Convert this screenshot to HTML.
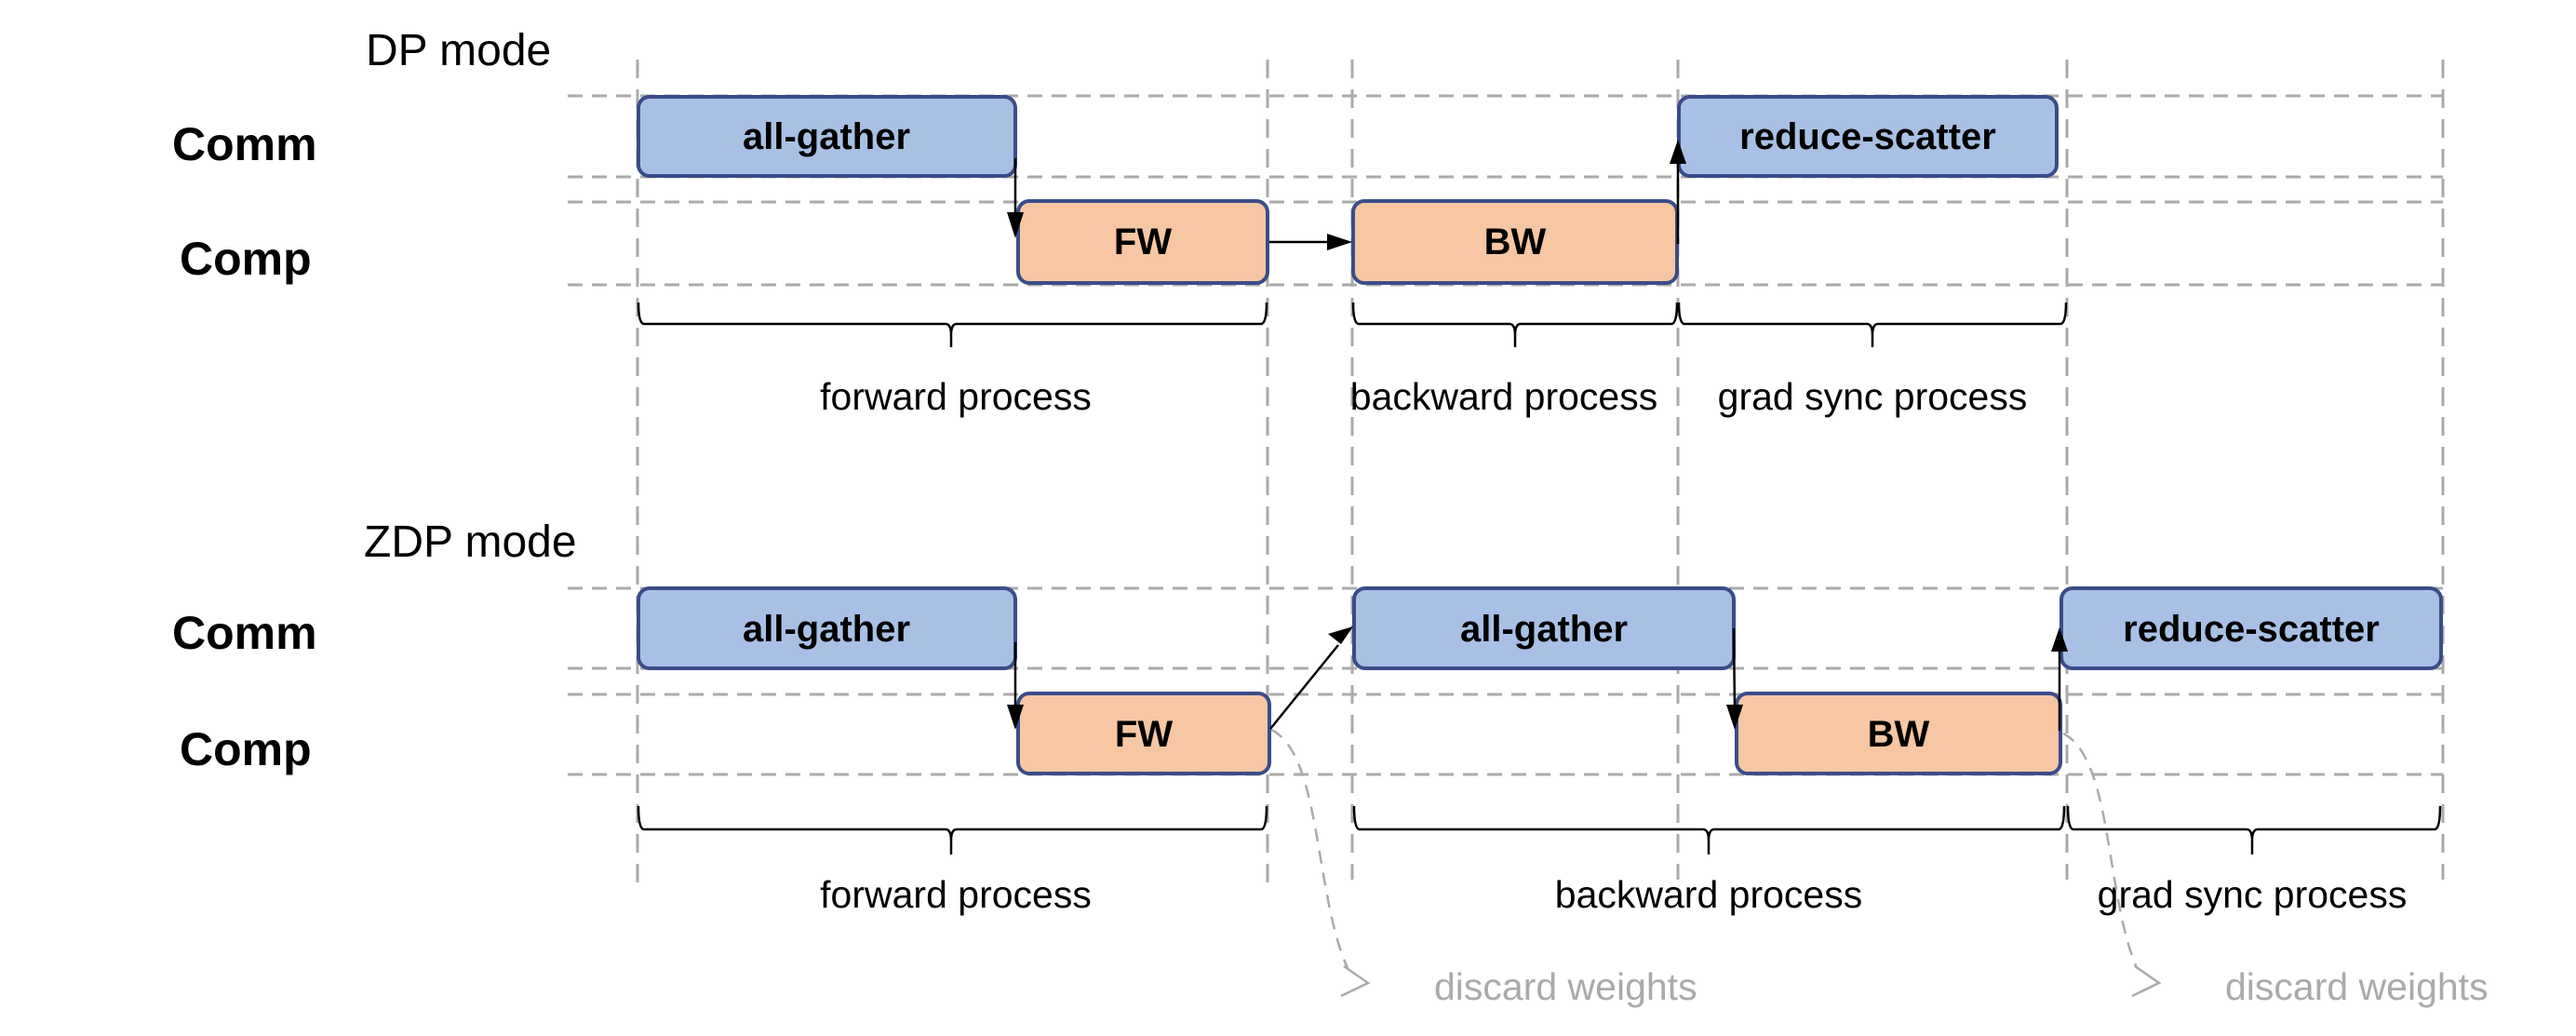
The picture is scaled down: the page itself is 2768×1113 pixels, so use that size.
<!DOCTYPE html>
<html><head><meta charset="utf-8"><style>
html,body{margin:0;padding:0;background:#fff;}
svg{display:block;}
text{font-family:"Liberation Sans",sans-serif;}
.lab{font-weight:bold;font-size:50px;fill:#000;}
.bx{font-weight:bold;font-size:40px;fill:#000;}
.pr{font-size:41px;fill:#000;}
.md{font-size:48px;fill:#000;}
.dw{font-size:41px;fill:#aaa;}
.hd{stroke:#aaa;stroke-width:3;stroke-dasharray:16 10;fill:none;}
.vd{stroke:#aaa;stroke-width:3;stroke-dasharray:20 12;fill:none;}
.blue{fill:#a9c0e5;stroke:#3a4c88;stroke-width:4;}
.org{fill:#f7c6a3;stroke:#3a4c88;stroke-width:4;}
.ar{stroke:#000;stroke-width:2.5;fill:none;}
.br{stroke:#000;stroke-width:2.5;fill:none;}
</style></head><body>
<svg width="2768" height="1113" viewBox="0 0 2768 1113" xmlns="http://www.w3.org/2000/svg">
<defs>
<marker id="ah" markerWidth="10" markerHeight="10" refX="9" refY="5" orient="auto" markerUnits="userSpaceOnUse" viewBox="0 0 10 10">
<path d="M0,0 L10,5 L0,10 z" fill="#000"/>
</marker>
</defs>
<!-- markers scaled via explicit paths instead -->
<!-- vertical dashed lines -->
<g class="vd">
<line x1="685" y1="64" x2="685" y2="950"/>
<line x1="1362" y1="64" x2="1362" y2="952"/>
<line x1="1453" y1="64" x2="1453" y2="945"/>
<line x1="1803" y1="64" x2="1803" y2="945"/>
<line x1="2221" y1="64" x2="2221" y2="945"/>
<line x1="2625" y1="64" x2="2625" y2="945"/>
</g>
<!-- horizontal dashed lines -->
<g class="hd">
<line x1="610" y1="103" x2="2625" y2="103"/>
<line x1="610" y1="190" x2="2625" y2="190"/>
<line x1="610" y1="217" x2="2625" y2="217"/>
<line x1="610" y1="306" x2="2625" y2="306"/>
<line x1="610" y1="632" x2="2625" y2="632"/>
<line x1="610" y1="718" x2="2625" y2="718"/>
<line x1="610" y1="746" x2="2625" y2="746"/>
<line x1="610" y1="832" x2="2625" y2="832"/>
</g>

<!-- titles and row labels -->
<text class="md" x="393" y="70">DP mode</text>
<text class="md" x="391" y="598">ZDP mode</text>
<text class="lab" x="185" y="172">Comm</text>
<text class="lab" x="193" y="295">Comp</text>
<text class="lab" x="185" y="697">Comm</text>
<text class="lab" x="193" y="822">Comp</text>

<!-- DP boxes -->
<rect class="blue" x="686" y="104" width="405" height="85" rx="12"/>
<text class="bx" x="888" y="160" text-anchor="middle">all-gather</text>
<rect class="org" x="1094" y="216" width="268" height="88" rx="12"/>
<text class="bx" x="1228" y="273" text-anchor="middle">FW</text>
<rect class="org" x="1454" y="216" width="348" height="88" rx="12"/>
<text class="bx" x="1628" y="273" text-anchor="middle">BW</text>
<rect class="blue" x="1804" y="104" width="406" height="85" rx="12"/>
<text class="bx" x="2007" y="160" text-anchor="middle">reduce-scatter</text>

<!-- DP arrows -->
<line class="ar" x1="1091" y1="170" x2="1091" y2="235"/>
<path d="M1082,228 L1100,228 L1091,256 z" fill="#000"/>
<line class="ar" x1="1364" y1="260" x2="1430" y2="260"/>
<path d="M1426,251 L1426,269 L1453,260 z" fill="#000"/>
<line class="ar" x1="1803" y1="262" x2="1803" y2="175"/>
<path d="M1794,176 L1812,176 L1803,150 z" fill="#000"/>

<!-- DP braces -->
<g class="br">
<path d="M686,325 Q686,348 692,348 L1016,348 Q1022,348 1022,360 L1022,373 M1022,360 Q1022,348 1028,348 L1355,348 Q1361,348 1361,325"/>
<path d="M1454,325 Q1454,348 1460,348 L1622,348 Q1628,348 1628,360 L1628,373 M1628,360 Q1628,348 1634,348 L1796,348 Q1802,348 1802,325"/>
<path d="M1804,325 Q1804,348 1810,348 L2006,348 Q2012,348 2012,360 L2012,373 M2012,360 Q2012,348 2018,348 L2214,348 Q2220,348 2220,325"/>
</g>
<text class="pr" x="1027" y="440" text-anchor="middle">forward process</text>
<text class="pr" x="1616" y="440" text-anchor="middle">backward process</text>
<text class="pr" x="2012" y="440" text-anchor="middle">grad sync process</text>

<!-- ZDP boxes -->
<rect class="blue" x="686" y="632" width="405" height="86" rx="12"/>
<text class="bx" x="888" y="689" text-anchor="middle">all-gather</text>
<rect class="org" x="1094" y="745" width="270" height="86" rx="12"/>
<text class="bx" x="1229" y="802" text-anchor="middle">FW</text>
<rect class="blue" x="1455" y="632" width="408" height="86" rx="12"/>
<text class="bx" x="1659" y="689" text-anchor="middle">all-gather</text>
<rect class="org" x="1866" y="745" width="348" height="86" rx="12"/>
<text class="bx" x="2040" y="802" text-anchor="middle">BW</text>
<rect class="blue" x="2215" y="632" width="408" height="86" rx="12"/>
<text class="bx" x="2419" y="689" text-anchor="middle">reduce-scatter</text>

<!-- ZDP arrows -->
<line class="ar" x1="1091" y1="690" x2="1091" y2="762"/>
<path d="M1082,757 L1100,757 L1091,784 z" fill="#000"/>
<line class="ar" x1="1365" y1="783" x2="1438" y2="693"/>
<path d="M1427,681 L1441,692 L1454,673 z" fill="#000"/>
<line class="ar" x1="1863" y1="675" x2="1864" y2="762"/>
<path d="M1855,757 L1873,757 L1864,784 z" fill="#000"/>
<line class="ar" x1="2213" y1="785" x2="2213" y2="698"/>
<path d="M2204,700 L2222,700 L2213,674 z" fill="#000"/>

<!-- ZDP braces -->
<g class="br">
<path d="M686,866 Q686,891 692,891 L1016,891 Q1022,891 1022,903 L1022,918 M1022,903 Q1022,891 1028,891 L1355,891 Q1361,891 1361,866"/>
<path d="M1455,866 Q1455,891 1461,891 L1830,891 Q1836,891 1836,903 L1836,918 M1836,903 Q1836,891 1842,891 L2212,891 Q2218,891 2218,866"/>
<path d="M2222,866 Q2222,891 2228,891 L2414,891 Q2420,891 2420,903 L2420,918 M2420,903 Q2420,891 2426,891 L2616,891 Q2622,891 2622,866"/>
</g>
<text class="pr" x="1027" y="975" text-anchor="middle">forward process</text>
<text class="pr" x="1836" y="975" text-anchor="middle">backward process</text>
<text class="pr" x="2420" y="975" text-anchor="middle">grad sync process</text>

<!-- discard weights -->
<path d="M1366,784 C1420,810 1412,960 1448,1040" stroke="#aaa" stroke-width="2.5" stroke-dasharray="14 10" fill="none"/>
<path d="M1444,1038 L1470,1056 L1441,1070" stroke="#aaa" stroke-width="2.5" fill="none"/>
<text class="dw" x="1541" y="1074">discard weights</text>
<path d="M2217,788 C2270,815 2262,960 2296,1040" stroke="#aaa" stroke-width="2.5" stroke-dasharray="14 10" fill="none"/>
<path d="M2294,1038 L2320,1056 L2291,1070" stroke="#aaa" stroke-width="2.5" fill="none"/>
<text class="dw" x="2391" y="1074">discard weights</text>
</svg>
</body></html>
